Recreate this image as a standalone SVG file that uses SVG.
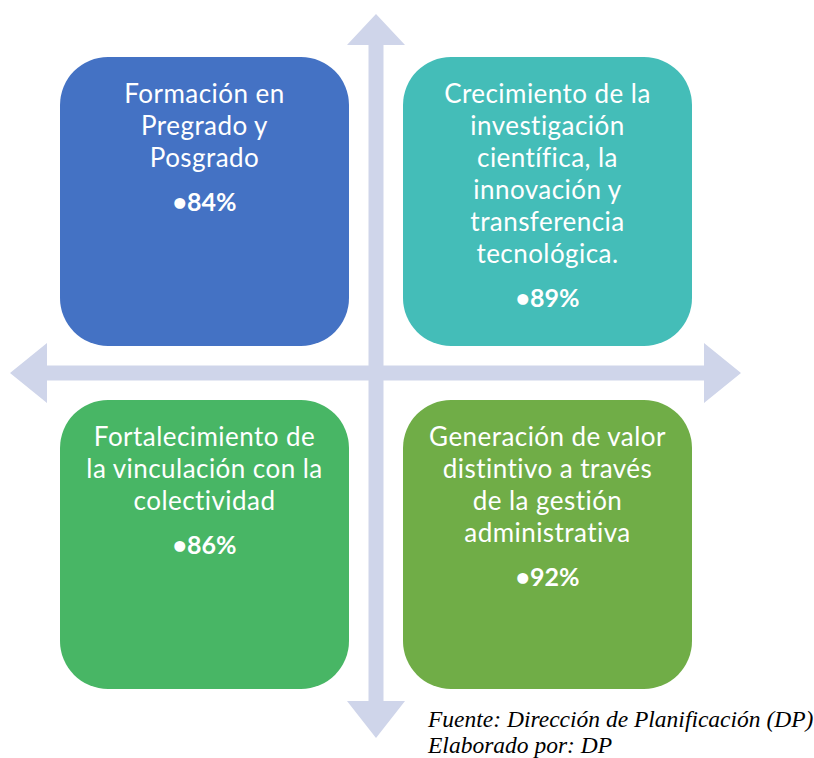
<svg xmlns="http://www.w3.org/2000/svg" width="814" height="758" viewBox="0 0 814 758">
<style>
.box text{font-family:Lato,"Open Sans","Liberation Sans",sans-serif;font-size:26px;letter-spacing:0.45px;fill:#fff;text-anchor:middle}
.box text.pct{font-weight:bold;font-size:25px;letter-spacing:0}
.ax{fill:#CFD5EA}
.cap{font-family:"Liberation Serif","Times New Roman",serif;font-style:italic;font-size:23.5px;fill:#000}
</style>
<rect width="814" height="758" fill="#fff"/>
<g id="connectors">
<polygon class="ax" points="10,373 47,343 47,365.5 704,365.5 704,343 741,373 704,403 704,380.5 47,380.5 47,403"/>
<polygon class="ax" points="376,14 405,45 383.5,45 383.5,701 405,701 376,738 347,701 368.5,701 368.5,45 347,45"/>
</g>
<g id="n1" class="box">
<rect x="60" y="57" width="289" height="289" rx="48" fill="#4472C4"/>
<text x="204.5" y="103">Formación en</text>
<text x="204.5" y="135">Pregrado y</text>
<text x="204.5" y="167">Posgrado</text>
<text x="204.5" y="211" class="pct">•84%</text>
</g>
<g id="n2" class="box">
<rect x="403" y="57" width="289" height="289" rx="48" fill="#44BDB8"/>
<text x="547.5" y="103">Crecimiento de la</text>
<text x="547.5" y="135">investigación</text>
<text x="547.5" y="167">científica, la</text>
<text x="547.5" y="199">innovación y</text>
<text x="547.5" y="231">transferencia</text>
<text x="547.5" y="263">tecnológica.</text>
<text x="547.5" y="307" class="pct">•89%</text>
</g>
<g id="n3" class="box">
<rect x="60" y="400" width="289" height="289" rx="48" fill="#48B665"/>
<text x="204.5" y="446">Fortalecimiento de</text>
<text x="204.5" y="478">la vinculación con la</text>
<text x="204.5" y="510">colectividad</text>
<text x="204.5" y="554" class="pct">•86%</text>
</g>
<g id="n4" class="box">
<rect x="403" y="400" width="289" height="289" rx="48" fill="#70AD47"/>
<text x="547.5" y="446">Generación de valor</text>
<text x="547.5" y="478">distintivo a través</text>
<text x="547.5" y="510">de la gestión</text>
<text x="547.5" y="542">administrativa</text>
<text x="547.5" y="586" class="pct">•92%</text>
</g>
<text class="cap" x="428" y="727">Fuente: Dirección de Planificación (DP)</text>
<text class="cap" x="428" y="753">Elaborado por: DP</text>
</svg>
